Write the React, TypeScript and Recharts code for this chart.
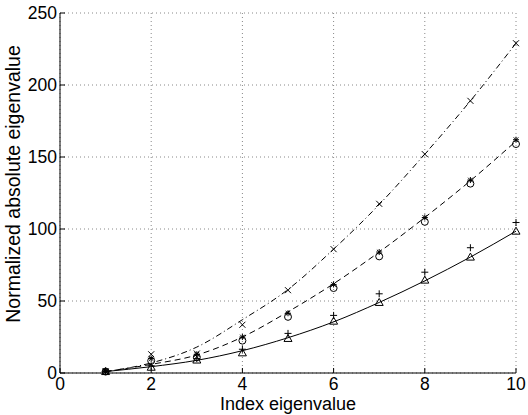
import { ComposedChart, Line, Scatter, XAxis, YAxis, CartesianGrid } from "recharts"

const indices = [1, 2, 3, 4, 5, 6, 7, 8, 9, 10]

// markers
const crossValues = [1, 13, 13.5, 33.5, 57.5, 86, 117.5, 152, 189, 229]
const starValues = [1.5, 10, 13, 25, 41.5, 61.5, 84, 108, 134, 162]
const circleValues = [1, 8.5, 11, 22.5, 39, 59, 81, 105, 131.5, 159]
const plusValues = [1, 5, 10, 16.5, 27.5, 40, 55, 70, 87, 104.5]
const triangleValues = [1, 4, 9, 14, 24, 36, 49, 64.5, 80.5, 98.5]

// fitted curves
const dashDotCurve = [1, 7, 18, 37, 58, 86, 117, 152, 189, 229]
const dashedCurve = [1, 6, 12.5, 25, 42.5, 62, 84, 108, 133.5, 161]
const solidCurve = [1, 4.4, 8.8, 15.5, 24.5, 35.5, 49, 64, 80.5, 98.5]

const xTicks = [0, 2, 4, 6, 8, 10]
const yTicks = [0, 50, 100, 150, 200, 250]

const data = indices.map((i, k) => ({
  i,
  cross: crossValues[k],
  star: starValues[k],
  circle: circleValues[k],
  plus: plusValues[k],
  triangle: triangleValues[k],
  dashDot: dashDotCurve[k],
  dashed: dashedCurve[k],
  solid: solidCurve[k],
}))

const FONT = "'Liberation Sans', Arial, sans-serif"
const INK = "#000"

type P = { cx?: number; cy?: number }

function CrossMark({ cx = 0, cy = 0 }: P) {
  const s = 3
  return (
    <path
      d={`M${cx - s},${cy - s}L${cx + s},${cy + s}M${cx - s},${cy + s}L${cx + s},${cy - s}`}
      stroke={INK}
      strokeWidth={1}
      fill="none"
    />
  )
}

function StarMark({ cx = 0, cy = 0 }: P) {
  const s = 3
  const d = 2.3
  return (
    <path
      d={`M${cx},${cy - s}L${cx},${cy + s}M${cx - s},${cy}L${cx + s},${cy}M${cx - d},${cy - d}L${cx + d},${cy + d}M${cx - d},${cy + d}L${cx + d},${cy - d}`}
      stroke={INK}
      strokeWidth={1}
      fill="none"
    />
  )
}

function CircleMark({ cx = 0, cy = 0 }: P) {
  return <circle cx={cx} cy={cy} r={3.5} stroke={INK} strokeWidth={1} fill="none" />
}

function PlusMark({ cx = 0, cy = 0 }: P) {
  const s = 3.5
  return (
    <path
      d={`M${cx},${cy - s}L${cx},${cy + s}M${cx - s},${cy}L${cx + s},${cy}`}
      stroke={INK}
      strokeWidth={1}
      fill="none"
    />
  )
}

function TriangleMark({ cx = 0, cy = 0 }: P) {
  return (
    <path
      d={`M${cx},${cy - 4}L${cx + 4},${cy + 3}L${cx - 4},${cy + 3}Z`}
      stroke={INK}
      strokeWidth={1}
      fill="none"
    />
  )
}

function XTick({ x, y, payload }: any) {
  return (
    <text x={x} y={y} dy="0.71em" textAnchor="middle" fontSize={17.5} fontFamily={FONT} fill={INK}>
      {payload.value}
    </text>
  )
}

function YTick({ x, y, payload }: any) {
  return (
    <text x={x} y={y} dy="0.36em" textAnchor="end" fontSize={17.5} fontFamily={FONT} fill={INK}>
      {payload.value}
    </text>
  )
}

export default function App() {
  return (
    <div style={{ position: "absolute", left: 0, top: 0, background: "#fff" }}>
      <ComposedChart
        width={528}
        height={415}
        data={data}
        margin={{ top: 13, right: 12, bottom: 0, left: 0 }}
      >
        <CartesianGrid stroke="#888" strokeDasharray="1 3" />
        <XAxis
          dataKey="i"
          type="number"
          domain={[0, 10]}
          ticks={xTicks}
          height={42}
          stroke={INK}
          tickSize={-5}
          tickMargin={10}
          tick={<XTick />}
          label={{
            content: ({ viewBox }: any) => (
              <text
                x={viewBox.x + viewBox.width / 2}
                y={410}
                textAnchor="middle"
                fontSize={18}
                fontFamily={FONT}
                fill={INK}
              >
                Index eigenvalue
              </text>
            ),
          }}
        />
        <XAxis
          xAxisId="top"
          orientation="top"
          type="number"
          domain={[0, 10]}
          ticks={xTicks}
          height={0}
          stroke={INK}
          tickSize={-5}
          tick={false}
        />
        <YAxis
          type="number"
          domain={[0, 250]}
          ticks={yTicks}
          width={60}
          stroke={INK}
          tickSize={-5}
          tickMargin={8}
          tick={<YTick />}
          label={{
            content: ({ viewBox }: any) => (
              <text
                x={20}
                y={184}
                transform="rotate(-90 20 184)"
                textAnchor="middle"
                fontSize={19.5}
                fontFamily={FONT}
                fill={INK}
              >
                Normalized absolute eigenvalue
              </text>
            ),
          }}
        />
        <YAxis
          yAxisId="right"
          orientation="right"
          type="number"
          domain={[0, 250]}
          ticks={yTicks}
          width={0}
          stroke={INK}
          tickSize={-5}
          tick={false}
        />
        <Line dataKey="dashDot" type="monotone" stroke={INK} strokeWidth={1} strokeDasharray="6 3 1 3" dot={false} isAnimationActive={false} />
        <Line dataKey="dashed" type="monotone" stroke={INK} strokeWidth={1} strokeDasharray="6 4" dot={false} isAnimationActive={false} />
        <Line dataKey="solid" type="monotone" stroke={INK} strokeWidth={1} dot={false} isAnimationActive={false} />
        <Scatter dataKey="cross" shape={(p: any) => <CrossMark {...p} />} isAnimationActive={false} />
        <Scatter dataKey="star" shape={(p: any) => <StarMark {...p} />} isAnimationActive={false} />
        <Scatter dataKey="circle" shape={(p: any) => <CircleMark {...p} />} isAnimationActive={false} />
        <Scatter dataKey="plus" shape={(p: any) => <PlusMark {...p} />} isAnimationActive={false} />
        <Scatter dataKey="triangle" shape={(p: any) => <TriangleMark {...p} />} isAnimationActive={false} />
      </ComposedChart>
    </div>
  )
}
